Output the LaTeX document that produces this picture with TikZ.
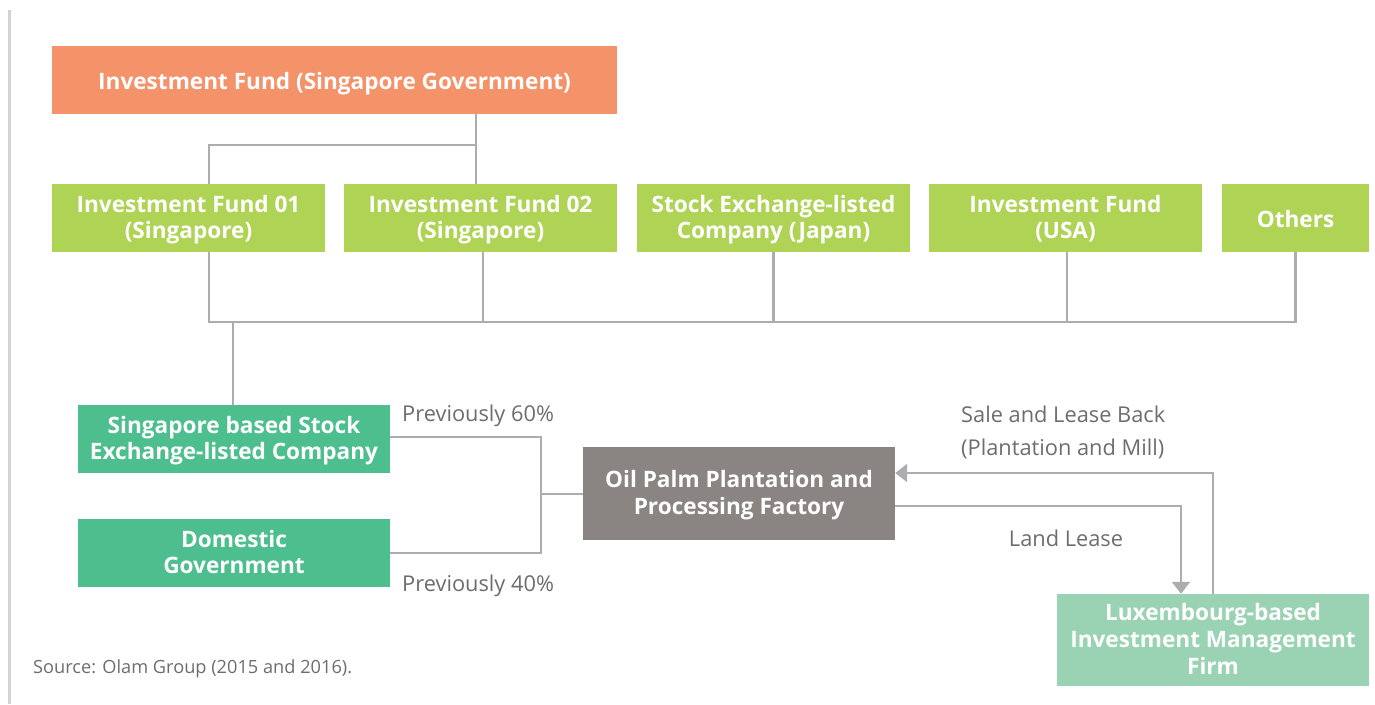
\documentclass[tikz,border=0pt]{standalone}
\usepackage{fontspec}
\setmainfont{Open Sans}
\usepackage{tikz}
\usetikzlibrary{positioning,calc,arrows.meta}
\definecolor{fundorange}{HTML}{F4926A}
\definecolor{fundgreen}{HTML}{AFD354}
\definecolor{firmteal}{HTML}{4DBF8E}
\definecolor{millgray}{HTML}{8A8582}
\definecolor{luxgreen}{HTML}{9AD3B4}
\definecolor{linkgray}{HTML}{ADADB0}
\definecolor{notegray}{HTML}{6D6D6D}
\definecolor{rulegray}{HTML}{D3D3D3}
\tikzset{ownbox/.style={draw=none, inner sep=0pt, align=center, text=white,
	font=\fontsize{22.6}{26.8}\selectfont\bfseries,
	execute at begin node={\rule{0pt}{21pt}}, text depth=2pt}}
\tikzset{fundtop/.style={ownbox, fill=fundorange, minimum width=565pt, minimum height=68pt}}
\tikzset{fundrow/.style={ownbox, fill=fundgreen, minimum width=273pt, minimum height=68pt}}
\tikzset{firmbox/.style={ownbox, fill=firmteal, minimum width=312pt, minimum height=68pt}}
\tikzset{link/.style={draw=linkgray, line width=2.6pt}}
\tikzset{arrlink/.style={link, -{Triangle[width=18pt,length=12pt]}, color=linkgray}}
\tikzset{note/.style={text=notegray, inner sep=0pt, font=\fontsize{21.8}{33}\selectfont}}

\begin{document}
\begin{tikzpicture}[x=1pt, y=-1pt]
	\useasboundingbox (0,0) rectangle (1375,704);
	\draw[draw=rulegray, line width=3pt] (9,10) -- (9,704);

	\node[fundtop] (top) at (334.5, 80) {Investment Fund (Singapore Government)};
	\node[fundrow] (IF01) at (188.5, 218) {Investment Fund 01\\(Singapore)};
	\node[fundrow] (IF02) at (480.5, 218) {Investment Fund 02\\(Singapore)};
	\node[fundrow] (JP) at (773.5, 218) {Stock Exchange-listed\\Company (Japan)};
	\node[fundrow] (US) at (1065.5, 218) {Investment Fund\\(USA)};
	\node[fundrow, minimum width=147pt] (Oth) at (1295.5, 218) {Others};

	\node[firmbox] (SG) at (234, 439) {Singapore based Stock\\Exchange-listed Company};
	\node[firmbox] (Dom) at (234, 553) {Domestic\\Government};
	\node[ownbox, fill=millgray, minimum width=312pt, minimum height=93pt] (Oil) at (739, 493.5)
		{Oil Palm Plantation and\\Processing Factory};
	\node[ownbox, fill=luxgreen, minimum width=312pt, minimum height=92pt] (Lux) at (1213, 640)
		{Luxembourg-based\\Investment Management\\Firm};

	% top fund down to the two Singapore funds
	\coordinate (j1) at (476, 145);
	\draw[link] (top.south -| j1) -- (IF02.north -| j1);
	\draw[link] (j1) -| ([xshift=20.5pt]IF01.north);

	% shareholders bus
	\coordinate (bus) at (0, 322);
	\draw[link] ([xshift=20.5pt]IF01.south) |- (Oth.south |- bus) -- (Oth.south);
	\foreach \n/\dx in {IF02/2.5, JP/0, US/1.5}
		\draw[link] ([xshift=\dx pt]\n.south) -- ([xshift=\dx pt]\n.south |- bus);
	\draw[link] ([xshift=-1pt]SG.north |- bus) -- ([xshift=-1pt]SG.north);

	% owners of the plantation
	\coordinate (fork) at (541, 494);
	\draw[link] ([yshift=2pt]SG.east) -| (fork) |- (Dom.east);
	\draw[link] (fork) -- (Oil.west |- fork);
	\node[note, anchor=west] (p60) at (402, 416) {Previously 60\%};
	\node[note, anchor=west] (p40) at (402, 586) {Previously 40\%};

	% lease arrows
	\draw[arrlink] (Lux.north) |- ([yshift=20.5pt]Oil.east);
	\draw[arrlink] ([yshift=-12.5pt]Oil.east) -| ([xshift=-32pt]Lux.north);
	\node[note, anchor=west, align=left] (sale) at (961, 432) {Sale and Lease Back\\(Plantation and Mill)};
	\node[note] (land) at (1066, 538) {Land Lease};

	\node[note, anchor=west, font=\fontsize{18.2}{22}\selectfont] (src) at (33, 669) {Source: Olam Group (2015 and 2016).};
\end{tikzpicture}
\end{document}
